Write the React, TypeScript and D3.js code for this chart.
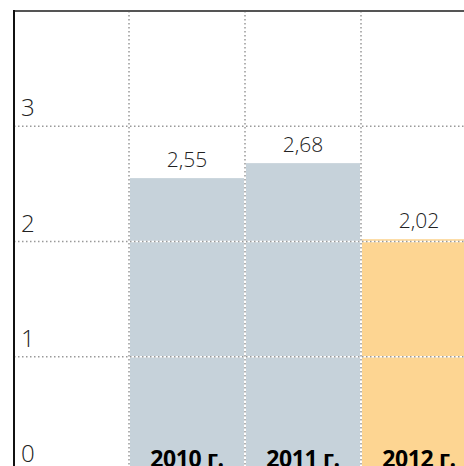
import React from 'react';
import * as d3 from 'd3';

const categories = ['', '2010 г.', '2011 г.', '2012 г.'];
const years = ['2010 г.', '2011 г.', '2012 г.'];
const values = [2.55, 2.68, 2.02];
const valueLabels = ['2,55', '2,68', '2,02'];
const yTicks = [0, 1, 2, 3];

const W = 464;
const H = 466;
const FONT = '"Open Sans", "Segoe UI", sans-serif';

const App = () => {
  const x = d3.scaleBand<string>().domain(categories).range([13, 477]).padding(0);
  const y = d3.scaleLinear().domain([0, 4]).range([472, 11]);
  const bw = x.bandwidth();

  return (
    <svg
      width={W}
      height={H}
      style={{ position: 'absolute', left: 0, top: 0, background: '#fff' }}
    >
      {/* bars */}
      {years.map((yr, i) => (
        <rect
          key={yr}
          x={(x(yr) as number) + 1}
          y={y(values[i])}
          width={bw - 2}
          height={y(0) - y(values[i])}
          fill={i === 2 ? '#fdd592' : '#c6d2da'}
        />
      ))}

      {/* horizontal grid */}
      {yTicks.filter(t => t > 0).map(t => (
        <g key={t}>
          <line x1={14} x2={W} y1={y(t)} y2={y(t)} stroke="#fff" strokeWidth={1.5} />
          <line
            x1={14}
            x2={W}
            y1={y(t)}
            y2={y(t)}
            stroke="#999"
            strokeWidth={1.5}
            strokeDasharray="1.5,2.5"
          />
        </g>
      ))}

      {/* vertical grid */}
      {years.map(yr => (
        <g key={yr}>
          <line x1={x(yr)} x2={x(yr)} y1={11} y2={H} stroke="#fff" strokeWidth={1.5} />
          <line
            x1={x(yr)}
            x2={x(yr)}
            y1={11}
            y2={H}
            stroke="#999"
            strokeWidth={1.5}
            strokeDasharray="1.5,2.5"
          />
        </g>
      ))}

      {/* frame */}
      <line x1={13} x2={W} y1={11} y2={11} stroke="#555" strokeWidth={2} />
      <line x1={14} x2={14} y1={10} y2={H} stroke="#111" strokeWidth={2} />

      {/* y tick labels */}
      {yTicks.map(t => (
        <text
          key={t}
          x={21}
          y={y(t) - 10}
          fontFamily={FONT}
          fontWeight={300}
          fontSize={24}
          fill="#222"
        >
          {t}
        </text>
      ))}

      {/* value labels */}
      {years.map((yr, i) => (
        <text
          key={yr}
          x={(x(yr) as number) + bw / 2}
          y={y(values[i]) - 11}
          textAnchor="middle"
          fontFamily={FONT}
          fontWeight={300}
          fontSize={21}
          fill="#222"
        >
          {valueLabels[i]}
        </text>
      ))}

      {/* category labels */}
      {years.map(yr => (
        <text
          key={yr}
          x={(x(yr) as number) + bw / 2}
          y={467}
          textAnchor="middle"
          fontFamily={FONT}
          fontWeight={700}
          fontSize={23}
          letterSpacing={-0.4}
          fill="#000"
        >
          {yr}
        </text>
      ))}
    </svg>
  );
};

export default App;
